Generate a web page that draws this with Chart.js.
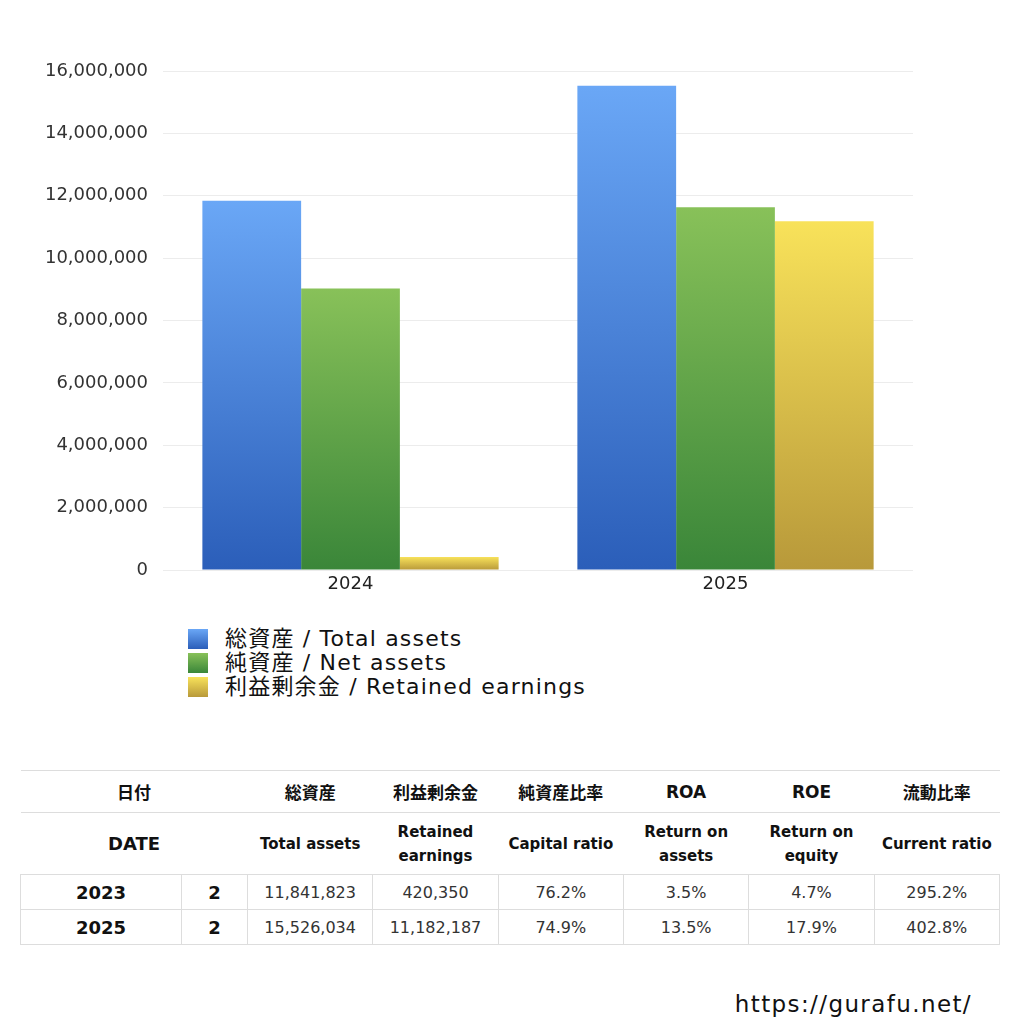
<!DOCTYPE html>
<html>
<head>
<meta charset="utf-8">
<script src="https://cdn.jsdelivr.net/npm/chart.js@4"></script>
<style>
  body { margin: 0; background: #fff; font-family: "DejaVu Sans", "Noto Sans CJK JP", sans-serif; color: #111; }
  #wrap { position: relative; width: 1024px; height: 1024px; }
  #myChart { position: absolute; left: 0; top: 0; }
  #legend { position: absolute; left: 188px; top: 627px; font-size: 22px; line-height: 24px; color: #111; letter-spacing: 1.2px; }
  #legend .item { display: flex; align-items: center; height: 24px; }
  #legend .box { width: 20px; height: 20px; margin-right: 17px; }
  table { position: absolute; left: 20px; top: 770px; width: 980px; border-collapse: collapse; table-layout: fixed; }
  td, th { border: 1px solid #ddd; text-align: center; padding: 0; }
  th { font-weight: bold; color: #111; }
  thead tr.r1 th { height: 41px; border-left: none; border-right: none; font-size: 17px; }
  thead tr.r2 th { height: 61px; border-left: none; border-right: none; line-height: 24px; font-size: 15px; }
  thead tr.r2 th:first-child { font-size: 18px; }
  thead th:first-child { border-left: 1px solid #ddd; }
  thead th:last-child { border-right: 1px solid #ddd; }
  tbody td { height: 34px; font-size: 16px; color: #333; }
  tbody td.yr, tbody td.mo { font-size: 18px; font-weight: bold; color: #111; }
  #url { position: absolute; right: 52px; top: 991px; font-size: 23px; letter-spacing: 1.4px; color: #111; }
</style>
</head>
<body>
<div id="wrap">
  <canvas id="myChart" width="1024" height="610"></canvas>
  <div id="legend"></div>
  <table id="tbl"></table>
  <div id="url">https://gurafu.net/</div>
</div>
<script>
const years = ['2024', '2025'];
const totalAssets = [11841823, 15526034];
const netAssets = [9023000, 11629000];
const retainedEarnings = [420350, 11182187];

const seriesNames = ['総資産 / Total assets', '純資産 / Net assets', '利益剰余金 / Retained earnings'];
const seriesTop = ['#6aa7f6', '#88c159', '#f8e25a'];
const seriesBottom = ['#2b5eb9', '#3a8639', '#b8993a'];

// table
const tableYears = ['2023', '2025'];
const tableMonths = ['2', '2'];
const tableTotalAssets = ['11,841,823', '15,526,034'];
const tableRetained = ['420,350', '11,182,187'];
const tableCapitalRatio = ['76.2%', '74.9%'];
const tableROA = ['3.5%', '13.5%'];
const tableROE = ['4.7%', '17.9%'];
const tableCurrentRatio = ['295.2%', '402.8%'];
const headJa = ['日付', '総資産', '利益剰余金', '純資産比率', 'ROA', 'ROE', '流動比率'];
const headEn = ['DATE', 'Total assets', 'Retained<br>earnings', 'Capital ratio', 'Return on<br>assets', 'Return on<br>equity', 'Current ratio'];

const tickFont = '"DejaVu Sans", "Noto Sans CJK JP", sans-serif';

function barGradient(i) {
    return function(context) {
        const chart = context.chart;
        const area = chart.chartArea;
        if (!area || !context.parsed) return seriesTop[i];
        const y = chart.scales.y;
        const yTop = y.getPixelForValue(context.parsed.y);
        const yBot = y.getPixelForValue(0);
        const g = chart.ctx.createLinearGradient(0, yTop, 0, yBot + 0.01);
        g.addColorStop(0, seriesTop[i]);
        g.addColorStop(1, seriesBottom[i]);
        return g;
    };
}

const data = {
    labels: years,
    datasets: [
        { label: seriesNames[0], data: totalAssets, backgroundColor: barGradient(0) },
        { label: seriesNames[1], data: netAssets, backgroundColor: barGradient(1) },
        { label: seriesNames[2], data: retainedEarnings, backgroundColor: barGradient(2) }
    ]
};

const config = {
    type: 'bar',
    data: data,
    options: {
        responsive: false,
        animation: false,
        layout: { padding: { top: 71, right: 111, left: 0, bottom: 10 } },
        datasets: { bar: { categoryPercentage: 0.79, barPercentage: 1.0, borderWidth: 0 } },
        plugins: {
            legend: { display: false },
            tooltip: { enabled: false }
        },
        scales: {
            x: {
                grid: { display: false, drawTicks: false },
                border: { display: false },
                ticks: { color: '#222', font: { family: tickFont, size: 18 }, padding: 4 },
                afterFit: function(scale) { scale.height = 30; }
            },
            y: {
                min: 0,
                max: 16000000,
                grid: { color: '#ececec', drawTicks: false },
                border: { display: false },
                ticks: {
                    stepSize: 2000000,
                    padding: 15,
                    color: '#333',
                    font: { family: tickFont, size: 18 },
                    callback: function(v) { return v.toLocaleString('en-US'); }
                },
                afterFit: function(scale) { scale.width = 163; }
            }
        }
    }
};

const myChart = new Chart(document.getElementById('myChart'), config);

// legend
const legendEl = document.getElementById('legend');
seriesNames.forEach(function(name, i) {
    const item = document.createElement('div');
    item.className = 'item';
    item.innerHTML = '<div class="box" style="background:linear-gradient(' + seriesTop[i] + ',' + seriesBottom[i] + ')"></div><span>' + name + '</span>';
    legendEl.appendChild(item);
});

// table
let html = '<colgroup><col style="width:161px"><col style="width:66px"><col><col><col><col><col><col></colgroup><thead>';
html += '<tr class="r1"><th colspan="2">' + headJa[0] + '</th>';
for (let i = 1; i < headJa.length; i++) html += '<th>' + headJa[i] + '</th>';
html += '</tr><tr class="r2"><th colspan="2">' + headEn[0] + '</th>';
for (let i = 1; i < headEn.length; i++) html += '<th>' + headEn[i] + '</th>';
html += '</tr></thead><tbody>';
for (let r = 0; r < tableYears.length; r++) {
    html += '<tr><td class="yr">' + tableYears[r] + '</td><td class="mo">' + tableMonths[r] + '</td>' +
        '<td>' + tableTotalAssets[r] + '</td><td>' + tableRetained[r] + '</td>' +
        '<td>' + tableCapitalRatio[r] + '</td><td>' + tableROA[r] + '</td>' +
        '<td>' + tableROE[r] + '</td><td>' + tableCurrentRatio[r] + '</td></tr>';
}
html += '</tbody>';
document.getElementById('tbl').innerHTML = html;
</script>
</body>
</html>
